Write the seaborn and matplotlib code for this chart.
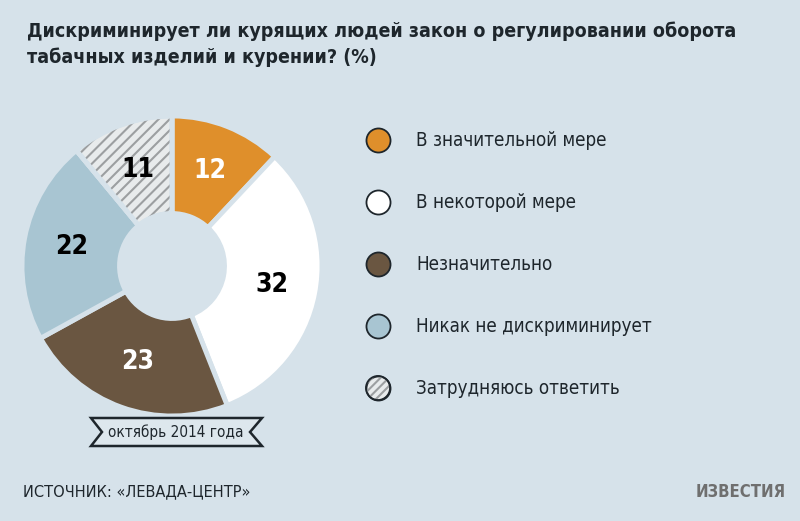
import matplotlib
matplotlib.use('Agg')
import matplotlib.pyplot as plt
import seaborn as sns
from matplotlib.patches import Polygon, Wedge

# ---------------- data ----------------
categories = ['В значительной мере', 'В некоторой мере', 'Незначительно',
              'Никак не дискриминирует', 'Затрудняюсь ответить']
values = [12, 32, 23, 22, 11]
colors = ['#df8f2b', '#ffffff', '#6a5641', '#a8c5d2', '#e8ebec']
label_colors = ['white', 'black', 'white', 'black', 'black']
hatched = [False, False, False, False, True]

title = 'Дискриминирует ли курящих людей закон о регулировании оборота\nтабачных изделий и курении? (%)'
period = 'октябрь 2014 года'
source = 'ИСТОЧНИК: «ЛЕВАДА-ЦЕНТР»'
logo = 'ИЗВЕСТИЯ'

# ---------------- style ----------------
bg = '#d6e2ea'
ink = '#1e262c'
stripe = '#9c9fa1'

sns.set_theme(style='white', rc={'figure.facecolor': bg, 'axes.facecolor': bg,
                                 'hatch.linewidth': 1.5})
plt.rcParams['font.family'] = ['DejaVu Sans']
plt.rcParams['font.stretch'] = 'condensed'

W, H = 800, 521
fig = plt.figure(figsize=(W / 100, H / 100), dpi=100)


def px_axes(x0, y0, x1, y1, **kw):
    return fig.add_axes([x0 / W, 1 - y1 / H, (x1 - x0) / W, (y1 - y0) / H], **kw)


# ---------------- donut ----------------
ax = px_axes(22, 116, 322, 416)
wedges, texts, autotexts = ax.pie(
    values, startangle=90, counterclock=False, colors=colors, radius=1,
    autopct=lambda p: '{:.0f}'.format(p), pctdistance=0.68,
    wedgeprops=dict(width=0.65, edgecolor=bg, linewidth=3.5),
    textprops=dict(fontsize=19, fontweight='bold'))
for t, c in zip(autotexts, label_colors):
    t.set_color(c)
    t.set_zorder(5)

# hatch overlay (hatch colour follows edgecolor, so draw it separately)
for w, h in zip(wedges, hatched):
    if not h:
        continue
    hw = Wedge(w.center, w.r, w.theta1, w.theta2, width=w.width,
               facecolor='none', edgecolor=stripe, linewidth=0, hatch='///', zorder=3)
    ax.add_patch(hw)
    ow = Wedge(w.center, w.r, w.theta1, w.theta2, width=w.width,
               facecolor='none', edgecolor=bg, linewidth=3.5, zorder=4)
    ax.add_patch(ow)
ax.set_xlim(-1, 1)
ax.set_ylim(-1, 1)

# ---------------- legend ----------------
lg = px_axes(360, 109, 800, 419)
lg.set_xlim(0, 440)
lg.set_ylim(len(categories) - 0.5, -0.5)
lg.axis('off')
for i, (cat, col, h) in enumerate(zip(categories, colors, hatched)):
    lg.scatter([18], [i], s=300, color=col, edgecolor=ink, linewidth=1.3, zorder=3)
    if h:
        lg.scatter([18], [i], s=300, facecolor='none', edgecolor=stripe, linewidth=0,
                   hatch='////', zorder=4)
        lg.scatter([18], [i], s=300, facecolor='none', edgecolor=ink, linewidth=1.3, zorder=5)
    lg.text(56, i, cat, fontsize=13.5, color=ink, va='center', ha='left')

# ---------------- overlay: title, banner, footer ----------------
top = fig.add_axes([0, 0, 1, 1], zorder=10)
top.set_xlim(0, W)
top.set_ylim(H, 0)
top.axis('off')
top.patch.set_alpha(0)

top.text(27, 44, title, fontsize=14, fontweight='bold', color=ink,
         ha='left', va='center', linespacing=1.4)

banner = Polygon([(91, 418), (262, 418), (250, 432), (262, 446), (91, 446), (102, 432)],
                 closed=True, facecolor='#dde7ed', edgecolor=ink, linewidth=1.8)
top.add_patch(banner)
top.text(176, 432, period, fontsize=11, color=ink, ha='center', va='center')

top.text(23, 492, source, fontsize=11.7, color=ink, ha='left', va='center')
top.text(786, 492, logo, fontsize=12, fontweight='bold', color='#6f6f6f',
         ha='right', va='center')

fig.savefig('out.png', dpi=100, facecolor=bg)
